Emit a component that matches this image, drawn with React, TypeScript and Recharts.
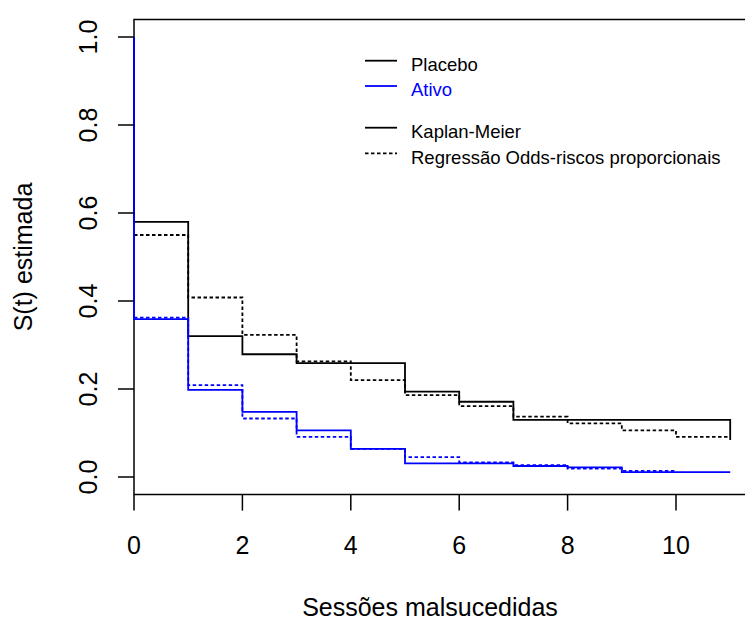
import React from 'react';
import { LineChart, Line, XAxis, YAxis, ReferenceArea, Legend } from 'recharts';

// ---- data ----
const placeboKMTimes = [0, 0, 1, 2, 3, 5, 6, 7, 11, 11];
const placeboKMValues = [1, 0.58, 0.32, 0.279, 0.259, 0.194, 0.171, 0.13, 0.13, 0.084];

const placeboRegTimes = [0, 1, 2, 3, 4, 5, 6, 7, 8, 9, 10, 11];
const placeboRegValues = [0.55, 0.408, 0.323, 0.263, 0.22, 0.186, 0.161, 0.137, 0.122, 0.106, 0.091, 0.091];

const ativoKMTimes = [0, 0, 1, 2, 3, 4, 5, 7, 8, 9, 11];
const ativoKMValues = [1, 0.359, 0.198, 0.148, 0.106, 0.064, 0.031, 0.025, 0.022, 0.011, 0.011];

const ativoRegTimes = [0, 1, 2, 3, 4, 5, 6, 7, 8, 9, 10];
const ativoRegValues = [0.362, 0.209, 0.133, 0.091, 0.064, 0.045, 0.033, 0.027, 0.019, 0.014, 0.014];

const xTicks = [0, 2, 4, 6, 8, 10];
const yTicks = [0, 0.2, 0.4, 0.6, 0.8, 1.0];

const legendLabels = ['Placebo', 'Ativo', 'Kaplan-Meier', 'Regressão Odds-riscos proporcionais'];
const legendColors = ['#000000', '#0000FF', '#000000', '#000000'];
const legendTextColors = ['#000000', '#0000FF', '#000000', '#000000'];
const legendDashed = [false, false, false, true];

const xTitle = 'Sessões malsucedidas';
const yTitle = 'S(t) estimada';

const toRows = (ts: number[], vs: number[]) => ts.map((t, i) => ({ t, s: vs[i] }));

const placeboKM = toRows(placeboKMTimes, placeboKMValues);
const placeboReg = toRows(placeboRegTimes, placeboRegValues);
const ativoKM = toRows(ativoKMTimes, ativoKMValues);
const ativoReg = toRows(ativoRegTimes, ativoRegValues);

const FONT = '"Liberation Sans", Arial, sans-serif';
const BLUE = '#0000FF';
const DASH = '3.5 2.5';
const LW = 1.8;

const YTick = (props: any) => {
  const { y, payload } = props;
  const bx = 97;
  return (
    <text
      x={bx}
      y={y}
      transform={`rotate(-90, ${bx}, ${y})`}
      textAnchor="middle"
      fontFamily={FONT}
      fontSize={25}
      fill="#000"
    >
      {Number(payload.value).toFixed(1)}
    </text>
  );
};

const XTick = (props: any) => {
  const { x, payload } = props;
  return (
    <text x={x} y={553.5} textAnchor="middle" fontFamily={FONT} fontSize={25} fill="#000">
      {String(payload.value)}
    </text>
  );
};

const XTitle = () => (
  <text x={430} y={616} textAnchor="middle" fontFamily={FONT} fontSize={25} fill="#000">
    {xTitle}
  </text>
);

const YTitle = () => (
  <text
    x={32}
    y={257}
    transform="rotate(-90, 32, 257)"
    textAnchor="middle"
    fontFamily={FONT}
    fontSize={25}
    fill="#000"
  >
    {yTitle}
  </text>
);

const rowY = [60.7, 86, 127.7, 153.3];

const LegendContent = () => (
  <svg width={745} height={200} style={{ display: 'block' }}>
    {legendLabels.map((lab, i) => (
      <g key={lab}>
        <line
          x1={365}
          x2={397}
          y1={rowY[i]}
          y2={rowY[i]}
          stroke={legendColors[i]}
          strokeWidth={LW}
          strokeDasharray={legendDashed[i] ? DASH : undefined}
        />
        <text
          x={411}
          y={rowY[i] + 10.3}
          fontFamily={FONT}
          fontSize={18.5}
          fill={legendTextColors[i]}
        >
          {lab}
        </text>
      </g>
    ))}
  </svg>
);

export default function App() {
  return (
    <div
      style={{
        position: 'absolute',
        left: 0,
        top: 0,
        width: 745,
        height: 622,
        overflow: 'hidden',
        background: '#fff',
      }}
    >
      <LineChart
        width={800}
        height={622}
        margin={{ top: 19.4, right: 15.6, left: 0, bottom: 0 }}
        style={{ fontFamily: FONT }}
      >
        <XAxis
          type="number"
          dataKey="t"
          domain={[0, 12]}
          ticks={xTicks}
          height={127.4}
          tickSize={16}
          axisLine={false}
          tickLine={{ stroke: '#000', strokeWidth: 1.5 }}
          tick={<XTick />}
          label={<XTitle />}
          interval={0}
        />
        <YAxis
          type="number"
          dataKey="s"
          domain={[-0.04, 1.04]}
          ticks={yTicks}
          width={134}
          tickSize={16}
          axisLine={false}
          tickLine={{ stroke: '#000', strokeWidth: 1.5 }}
          tick={<YTick />}
          label={<YTitle />}
          interval={0}
        />
        <ReferenceArea
          x1={0}
          x2={12}
          y1={-0.04}
          y2={1.04}
          fill="none"
          fillOpacity={0}
          stroke="#000"
          strokeWidth={1.5}
          ifOverflow="visible"
        />
        <Legend
          layout="vertical"
          align="center"
          verticalAlign="middle"
          wrapperStyle={{ left: 0, top: 0, width: 745, height: 200, pointerEvents: 'none' }}
          content={<LegendContent />}
        />
        <Line
          data={placeboKM}
          dataKey="s"
          type="stepAfter"
          stroke="#000"
          strokeWidth={LW}
          dot={false}
          activeDot={false}
          isAnimationActive={false}
          name="Placebo KM"
        />
        <Line
          data={placeboReg}
          dataKey="s"
          type="stepAfter"
          stroke="#000"
          strokeWidth={LW}
          strokeDasharray={DASH}
          dot={false}
          activeDot={false}
          isAnimationActive={false}
          name="Placebo Reg"
        />
        <Line
          data={ativoKM}
          dataKey="s"
          type="stepAfter"
          stroke={BLUE}
          strokeWidth={LW}
          dot={false}
          activeDot={false}
          isAnimationActive={false}
          name="Ativo KM"
        />
        <Line
          data={ativoReg}
          dataKey="s"
          type="stepAfter"
          stroke={BLUE}
          strokeWidth={LW}
          strokeDasharray={DASH}
          dot={false}
          activeDot={false}
          isAnimationActive={false}
          name="Ativo Reg"
        />
      </LineChart>
    </div>
  );
}
